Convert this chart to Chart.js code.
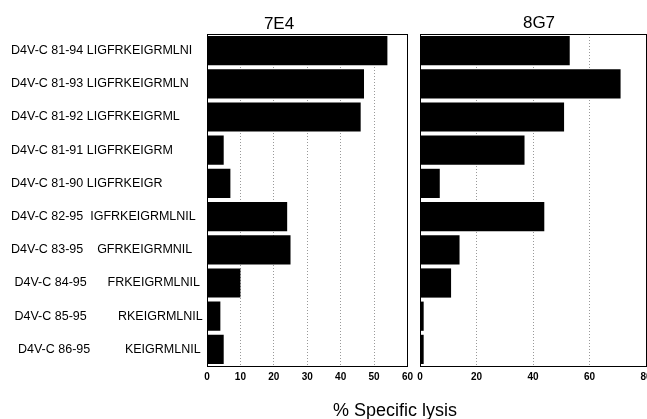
<!DOCTYPE html>
<html>
<head>
<meta charset="utf-8">
<script src="https://cdn.jsdelivr.net/npm/chart.js@4/dist/chart.umd.min.js"></script>
<style>
  html, body { margin: 0; padding: 0; background: #fff; overflow: hidden; }
  #wrap { position: relative; width: 647px; height: 419px; overflow: hidden; font-family: "Liberation Sans", Arial, sans-serif; }
  .lbl { position: absolute; color: #000; white-space: nowrap; transform: translate(-50%, -50%); }
  #c1 { position: absolute; left: 0; top: 0; }
  #c2 { position: absolute; left: 412px; top: 0; }
</style>
</head>
<body>
<div id="wrap">
  <canvas id="c1" width="418" height="419"></canvas>
  <canvas id="c2" width="260" height="419"></canvas>
  <div class="lbl" style="left:279px; top:24px; font-size:17px;">7E4</div>
  <div class="lbl" style="left:539px; top:23px; font-size:17px;">8G7</div>
  <div class="lbl" style="left:395px; top:410px; font-size:18px;">% Specific lysis</div>
</div>
<script>
// peptide labels (spacing kept as in the figure)
var peptides = [
  "D4V-C 81-94 LIGFRKEIGRMLNI",
  "D4V-C 81-93 LIGFRKEIGRMLN",
  "D4V-C 81-92 LIGFRKEIGRML",
  "D4V-C 81-91 LIGFRKEIGRM",
  "D4V-C 81-90 LIGFRKEIGR",
  "D4V-C 82-95  IGFRKEIGRMLNIL",
  "D4V-C 83-95    GFRKEIGRMNIL",
  " D4V-C 84-95      FRKEIGRMLNIL",
  " D4V-C 85-95         RKEIGRMLNIL",
  "  D4V-C 86-95          KEIGRMLNIL"
];

// % specific lysis per clone
var lysis7E4 = [54, 47, 46, 5, 7, 24, 25, 10, 4, 5];
var lysis8G7 = [53, 71, 51, 37, 7, 44, 14, 11, 1.3, 1.3];

var ticks7E4 = [0, 60, 10];
var ticks8G7 = [0, 80, 20];

// draws the black frame round each panel
var framePlugin = {
  id: 'frame',
  afterDraw: function(chart) {
    var a = chart.chartArea;
    var ctx = chart.ctx;
    ctx.save();
    ctx.strokeStyle = '#000';
    ctx.lineWidth = 1;
    ctx.strokeRect(Math.round(a.left) + 0.5, Math.round(a.top) + 0.5,
      Math.round(a.right - a.left), Math.round(a.bottom - a.top));
    ctx.restore();
  }
};

function makeConfig(values, tk, showLabels, pad) {
  return {
    type: 'bar',
    data: {
      labels: peptides,
      datasets: [{
        data: values,
        backgroundColor: '#000',
        borderWidth: 0,
        barPercentage: 0.88,
        categoryPercentage: 1.0
      }]
    },
    options: {
      indexAxis: 'y',
      responsive: false,
      animation: false,
      layout: { padding: pad },
      plugins: { legend: { display: false }, tooltip: { enabled: false } },
      scales: {
        x: {
          min: tk[0], max: tk[1],
          ticks: {
            stepSize: tk[2], color: '#000', padding: 5,
            font: { family: '"Liberation Sans", Arial, sans-serif', size: 10, weight: 'bold' }
          },
          grid: { color: '#999', borderDash: [1, 2], drawTicks: false, lineWidth: 1 },
          border: { display: false, dash: [1, 2] },
          afterFit: function(s) { s.height = 53; }
        },
        y: {
          display: showLabels,
          ticks: {
            color: '#000', crossAlign: 'far', padding: 0,
            font: { family: '"Liberation Sans", Arial, sans-serif', size: 12.5 }
          },
          grid: { display: false },
          border: { display: false },
          afterFit: function(s) { if (showLabels) s.width = 196; }
        }
      }
    },
    plugins: [framePlugin]
  };
}

new Chart(document.getElementById('c1'),
  makeConfig(lysis7E4, ticks7E4, true, { top: 34, left: 11, right: 0, bottom: 0 }));
new Chart(document.getElementById('c2'),
  makeConfig(lysis8G7, ticks8G7, false, { top: 34, left: 8, right: 26, bottom: 0 }));
</script>
</body>
</html>
